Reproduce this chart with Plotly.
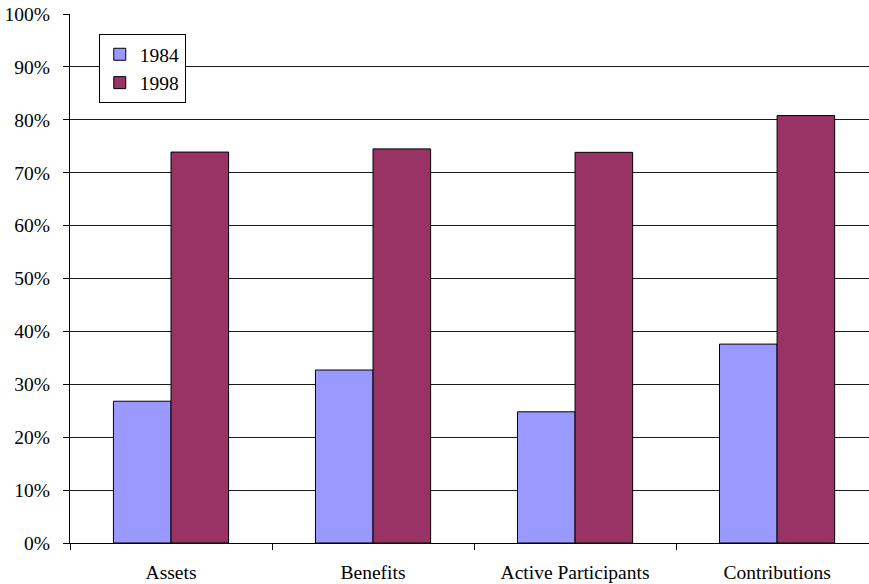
import plotly.graph_objects as go

categories = ["Assets", "Benefits", "Active Participants", "Contributions"]
share_1984 = [26.8, 32.7, 24.8, 37.6]
share_1998 = [73.9, 74.5, 73.85, 80.8]
y_ticks = list(range(0, 101, 10))
y_tick_labels = [f"{v}%" for v in y_ticks]

serif = "Liberation Serif"
text_size = 19.5

fig = go.Figure()
fig.add_trace(go.Bar(
    name="1984", x=categories, y=share_1984,
    marker=dict(color="#9999FF", line=dict(color="#000000", width=1)),
))
fig.add_trace(go.Bar(
    name="1998", x=categories, y=share_1998,
    marker=dict(color="#993366", line=dict(color="#000000", width=1)),
))

fig.update_layout(
    width=869, height=584,
    margin=dict(l=70, r=0, t=14, b=41),
    paper_bgcolor="white", plot_bgcolor="white",
    barmode="group", bargap=0.43, bargroupgap=0,
    font=dict(family=serif, size=text_size, color="#000000"),
    showlegend=True,
    legend=dict(
        x=0.036, y=0.962, xanchor="left", yanchor="top",
        bgcolor="white", bordercolor="#000000", borderwidth=1,
        font=dict(family=serif, size=text_size, color="#000000"),
        tracegroupgap=0, itemwidth=30,
    ),
)

fig.update_xaxes(
    type="category", range=[-0.5, 3.455],
    showline=True, linecolor="#000000", linewidth=1,
    ticks="outside", tickson="boundaries", ticklen=6, tickcolor="#000000",
    showgrid=False, ticklabelstandoff=12,
    tickfont=dict(family=serif, size=text_size, color="#000000"),
)
fig.update_yaxes(
    range=[0, 100], tickvals=y_ticks, ticktext=y_tick_labels,
    showline=True, linecolor="#000000", linewidth=1,
    ticks="outside", ticklen=6, tickcolor="#000000",
    showgrid=True, gridcolor="#1a1a1a", gridwidth=1,
    zeroline=False, ticklabelstandoff=9,
    tickfont=dict(family=serif, size=text_size, color="#000000"),
)

fig.write_html("out.html")
